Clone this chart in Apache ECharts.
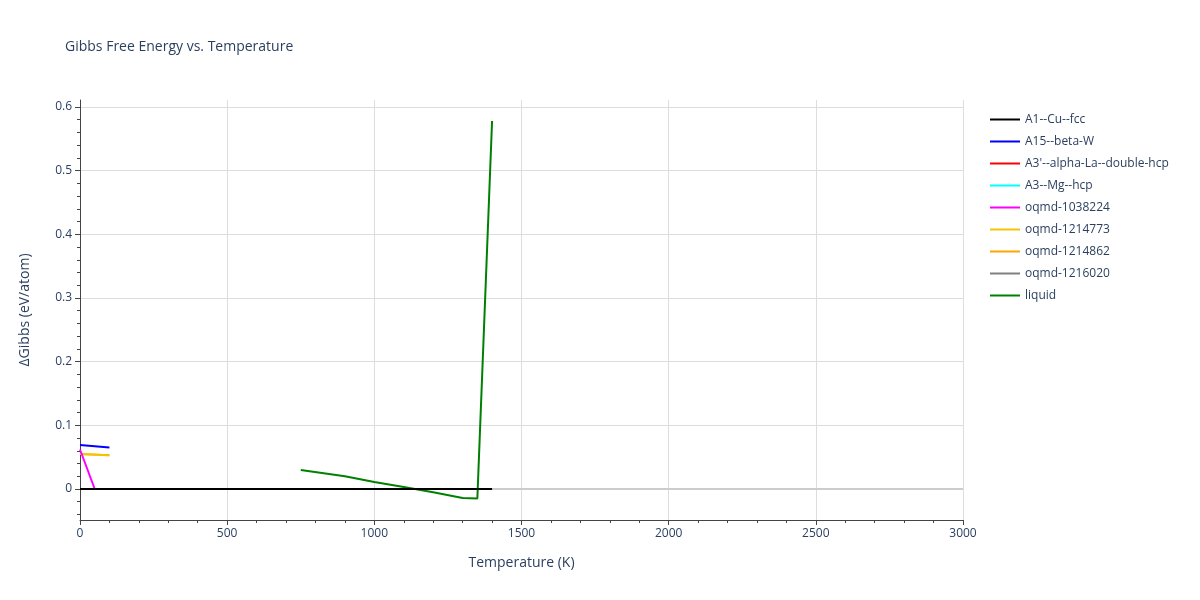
<!DOCTYPE html><html><head><meta charset="utf-8"><script src="https://cdn.jsdelivr.net/npm/echarts@6/dist/echarts.min.js"></script></head><body style="margin:0"><div id="c" style="width:1200px;height:600px"></div><script>
const seriesNames=['A1--Cu--fcc','A15--beta-W',"A3'--alpha-La--double-hcp",'A3--Mg--hcp','oqmd-1038224','oqmd-1214773','oqmd-1214862','oqmd-1216020','liquid'];
const colors=['black','blue','red','cyan','magenta','#f5c400','orange','grey','green'];
const fccT=[0,1400], fccG=[0,0];
const betaWT=[0,100], betaWG=[0.069,0.065];
const laT=[0,100], laG=[0,0];
const mgT=[0,100], mgG=[0,0];
const o1038224T=[0,50], o1038224G=[0.062,0];
const o1214773T=[0,100], o1214773G=[0.055,0.053];
const o1214862T=[0,100], o1214862G=[0.055,0.053];
const o1216020T=[0,100], o1216020G=[0,0];
const liquidT=[750,900,1000,1100,1200,1300,1350,1400];
const liquidG=[0.030,0.020,0.011,0.003,-0.005,-0.014,-0.015,0.578];
const yTickLabels=[0,0.1,0.2,0.3,0.4,0.5,0.6];
const yMinor=[-0.04,-0.02,0,0.02,0.04,0.06,0.08,0.1,0.12,0.14,0.16,0.18,0.2,0.22,0.24,0.26,0.28,0.3,0.32,0.34,0.36,0.38,0.4,0.42,0.44,0.46,0.48,0.5,0.52,0.54,0.56,0.58,0.6];
const zeroLineT=[0,3000], zeroLineG=[0,0];
const allT=[fccT,betaWT,laT,mgT,o1038224T,o1214773T,o1214862T,o1216020T,liquidT];
const allG=[fccG,betaWG,laG,mgG,o1038224G,o1214773G,o1214862G,o1216020G,liquidG];
const drawOrder=[8,7,6,5,4,3,2,1,0];
const tc='#2a3f5f';
const series=drawOrder.map(i=>({name:seriesNames[i],type:'line',showSymbol:false,symbol:'none',color:colors[i],lineStyle:{width:2,color:colors[i]},data:allT[i].map((t,k)=>[t,allG[i][k]]),z:3+(8-i)*0.01}));
const ch=echarts.init(document.getElementById('c'));
ch.setOption({animation:false,textStyle:{fontFamily:'Open Sans'},
title:{text:'Gibbs Free Energy vs. Temperature',left:60,top:35,textStyle:{fontSize:14,fontWeight:'normal',color:tc}},
legend:{orient:'vertical',left:985,top:106,itemGap:5,itemWidth:30,itemHeight:14,data:seriesNames.map((n,i)=>({name:n,icon:'path://M0,6h30v2h-30z',itemStyle:{color:colors[i]}})),textStyle:{fontSize:12,color:tc,lineHeight:14,padding:[2,0,1,0]}},
grid:{left:80,right:237,top:100,bottom:80},
xAxis:{type:'value',min:0,max:3000,interval:500,name:'Temperature (K)',nameLocation:'middle',nameGap:36,nameTextStyle:{fontSize:14,color:tc},
axisLine:{onZero:false,lineStyle:{color:'#444'}},axisTick:{show:true,length:5,lineStyle:{color:'#444'}},minorTick:{show:true,splitNumber:5,length:3,lineStyle:{color:'#444'}},axisLabel:{color:tc,fontSize:12,formatter:v=>String(v)},splitLine:{lineStyle:{color:'#ddd'}}},
yAxis:[{type:'value',min:-0.0487,max:0.611,name:'ΔGibbs (eV/atom)',nameLocation:'middle',nameGap:48,nameTextStyle:{fontSize:14,color:tc},
axisLine:{show:true,lineStyle:{color:'#444'}},axisTick:{show:true,length:5,customValues:yTickLabels,lineStyle:{color:'#444'}},axisLabel:{color:tc,fontSize:12,customValues:yTickLabels},splitLine:{show:true,lineStyle:{color:'#ddd'}}},
{type:'value',position:'left',offset:0,min:-0.0487,max:0.611,axisLine:{show:false},axisLabel:{show:false},splitLine:{show:false},axisTick:{show:true,length:3,customValues:yMinor,lineStyle:{color:'#444'}}}],
series:[{type:'line',silent:true,symbol:'none',z:1,lineStyle:{color:'#ccc',width:2},data:zeroLineT.map((t,k)=>[t,zeroLineG[k]])}].concat(series)
});
</script></body></html>
